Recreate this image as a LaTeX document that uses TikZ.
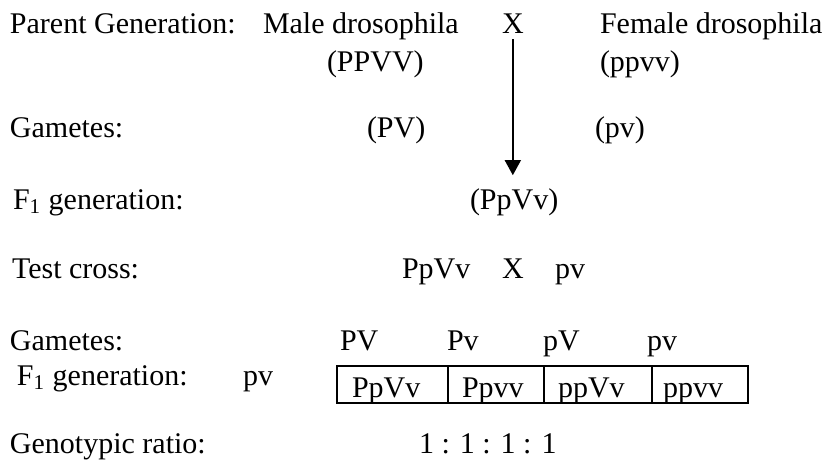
\documentclass[tikz,border=0pt]{standalone}
\usepackage{fontspec}
\setmainfont{Liberation Serif}
\usetikzlibrary{arrows.meta}

\begin{document}
\begin{tikzpicture}[x=0.5pt, y=-0.5pt,
  txt/.style={anchor=base west, inner sep=0pt, outer sep=0pt,
              font=\fontsize{15}{18}\selectfont},
  cellline/.style={line width=0.65pt},
  crossarrow/.style={line width=0.8pt,
                     -{Triangle[width=8pt,length=7.5pt]}}
]
  \useasboundingbox (0,0) rectangle (830,462);

  % Parent generation
  \node[txt] (lblparent) at (10,33)  {Parent Generation:};
  \node[txt] (male)      at (263,33) {Male drosophila};
  \node[txt] (cross)     at (502,33) {X};
  \node[txt] (female)    at (600,33) {Female drosophila};
  \node[txt] (malegt)    at (327,71) {(PPVV)};
  \node[txt] (femalegt)  at (600,71) {(ppvv)};

  % Gametes of the parents
  \node[txt] (lblgam)    at (10,137)  {Gametes:};
  \node[txt] (malegam)   at (367,137) {(PV)};
  \node[txt] (femgam)    at (595,137) {(pv)};

  % F1 generation
  \node[txt] (lblfone)   at (13,209)  {F\textsubscript{1} generation:};
  \node[txt] (fone)      at (470,209) {(PpVv)};

  % Test cross
  \node[txt] (lbltest)   at (12,278)  {Test cross:};
  \node[txt] (tcleft)    at (402,278) {PpVv};
  \node[txt] (tcx)       at (502,278) {X};
  \node[txt] (tcright)   at (555,278) {pv};

  % Gametes of the test cross
  \node[txt] (lblgamtwo) at (10,350)  {Gametes:};
  \node[txt] (gPV)       at (340,350) {PV};
  \node[txt] (gPv)       at (447,350) {Pv};
  \node[txt] (gpV)       at (543,350) {pV};
  \node[txt] (gpv)       at (647,350) {pv};

  % Offspring row
  \node[txt] (lblfonetwo) at (17,385)  {F\textsubscript{1} generation:};
  \node[txt] (rowpv)      at (243,385) {pv};

  \draw[cellline] (337,366) rectangle (748,403);
  \draw[cellline] (448,366) -- (448,403);
  \draw[cellline] (544,366) -- (544,403);
  \draw[cellline] (652,366) -- (652,403);

  \node[txt] (cellA) at (352,397) {PpVv};
  \node[txt] (cellB) at (462,397) {Ppvv};
  \node[txt] (cellC) at (558,397) {ppVv};
  \node[txt] (cellD) at (663,397) {ppvv};

  % Ratio
  \node[txt] (lblratio) at (10,453)  {Genotypic ratio:};
  \node[txt] (ratio)    at (419,453) {1 : 1 : 1 : 1};

  % Cross arrow down to the F1 offspring
  \draw[crossarrow, shorten <=3pt, shorten >=6.5pt]
    (cross.south) -- (cross.south |- fone.north);
\end{tikzpicture}
\end{document}
